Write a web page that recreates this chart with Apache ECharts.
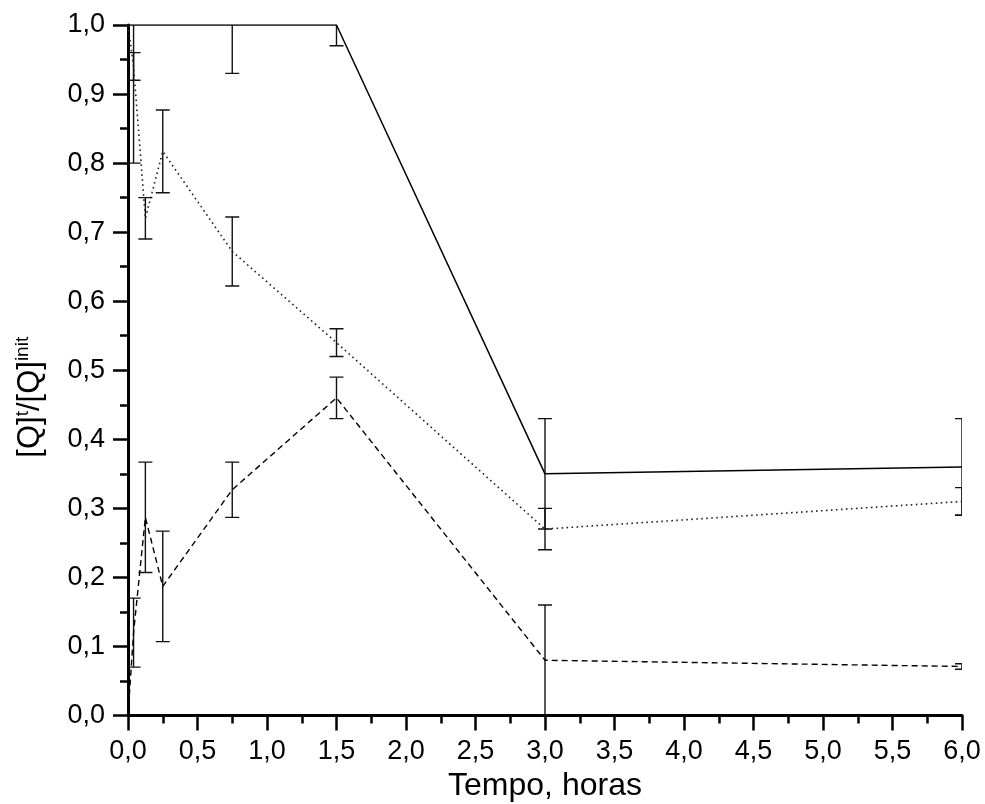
<!DOCTYPE html>
<html>
<head>
<meta charset="utf-8">
<script src="https://cdn.jsdelivr.net/npm/echarts@6/dist/echarts.min.js"></script>
<style>
  html, body { margin: 0; padding: 0; background: #fff; }
  #chart { width: 985px; height: 804px; }
</style>
</head>
<body>
<div id="chart"></div>
<script>
// Time (hours)
const times = [0, 0.04, 0.125, 0.25, 0.75, 1.5, 3, 6];

// Solid series
const solidValues = [1.0, 1.0, 1.0, 1.0, 1.0, 1.0, 0.35, 0.36];
const solidErrors = [0, 0.2, 0, 0, 0.07, 0.03, 0.08, 0.07];

// Dotted series
const dottedValues = [1.0, 0.94, 0.72, 0.817, 0.672, 0.54, 0.27, 0.31];
const dottedErrors = [0, 0.02, 0.03, 0.06, 0.05, 0.02, 0.03, 0.02];

// Dashed series
const dashedValues = [0, 0.12, 0.287, 0.187, 0.327, 0.46, 0.08, 0.071];
const dashedErrors = [0, 0.05, 0.08, 0.08, 0.04, 0.03, 0.08, 0.004];

// Tick labels
const xTickLabels = ['0,0','0,5','1,0','1,5','2,0','2,5','3,0','3,5','4,0','4,5','5,0','5,5','6,0'];
const yTickLabels = ['0,0','0,1','0,2','0,3','0,4','0,5','0,6','0,7','0,8','0,9','1,0'];

const xTitle = 'Tempo, horas';

function pairs(vals) { return times.map((t, i) => [t, vals[i]]); }
function errData(vals, errs) {
  const out = [];
  times.forEach((t, i) => { if (errs[i] > 0) out.push([t, vals[i] - errs[i], vals[i] + errs[i]]); });
  return out;
}

function renderErr(params, api) {
  const x = api.value(0), lo = api.value(1), hi = api.value(2);
  const pLo = api.coord([x, lo]);
  const pHi = api.coord([x, hi]);
  const half = 7;
  const style = { stroke: '#111', lineWidth: 1.4 };
  return {
    type: 'group',
    children: [
      { type: 'line', shape: { x1: pLo[0], y1: pLo[1], x2: pHi[0], y2: pHi[1] }, style: style },
      { type: 'line', shape: { x1: pLo[0] - half, y1: pLo[1], x2: pLo[0] + half, y2: pLo[1] }, style: style },
      { type: 'line', shape: { x1: pHi[0] - half, y1: pHi[1], x2: pHi[0] + half, y2: pHi[1] }, style: style }
    ]
  };
}

const font = '"Liberation Sans", Arial, sans-serif';
const chart = echarts.init(document.getElementById('chart'), null, { renderer: 'canvas' });

chart.setOption({
  animation: false,
  backgroundColor: '#fff',
  grid: { left: 128, right: 23, top: 25, bottom: 88.5, containLabel: false, outerBoundsMode: 'none' },
  xAxis: {
    type: 'value', min: 0, max: 6, interval: 0.5,
    name: xTitle, nameLocation: 'middle', nameGap: 52,
    nameTextStyle: { fontFamily: font, fontSize: 32, color: '#000' },
    axisLine: { show: true, onZero: false, lineStyle: { color: '#000', width: 3 } },
    axisTick: { show: true, inside: false, length: 15, lineStyle: { color: '#000', width: 2.5 } },
    minorTick: { show: true, splitNumber: 2, length: 8, lineStyle: { color: '#000', width: 2.5 } },
    splitLine: { show: false },
    axisLabel: {
      margin: 23, fontFamily: font, fontSize: 27, color: '#000',
      formatter: v => xTickLabels[Math.round(v / 0.5)]
    }
  },
  yAxis: {
    type: 'value', min: 0, max: 1, interval: 0.1,
    name: '[Q]{sup|t}/[Q]{sup|init}', nameLocation: 'middle', nameGap: 80, nameRotate: 90,
    nameTextStyle: {
      fontFamily: font, fontSize: 31, color: '#000', padding: [0, 54, 0, 0],
      rich: { sup: { fontFamily: font, fontSize: 19, color: '#000', verticalAlign: 'top', padding: [0, 0, 16, 0] } }
    },
    axisLine: { show: true, onZero: false, lineStyle: { color: '#000', width: 3 } },
    axisTick: { show: true, inside: false, length: 15, lineStyle: { color: '#000', width: 2.5 } },
    minorTick: { show: true, splitNumber: 2, length: 8, lineStyle: { color: '#000', width: 2.5 } },
    splitLine: { show: false },
    axisLabel: {
      margin: 23, fontFamily: font, fontSize: 27, color: '#000',
      formatter: v => yTickLabels[Math.round(v / 0.1)]
    }
  },
  series: [
    { type: 'line', data: pairs(solidValues), symbol: 'none', clip: true,
      lineStyle: { color: '#000', width: 1.5, type: 'solid' } },
    { type: 'line', data: pairs(dottedValues), symbol: 'none', clip: true,
      lineStyle: { color: '#222', width: 1.6, type: [1.6, 3.4] } },
    { type: 'line', data: pairs(dashedValues), symbol: 'none', clip: true,
      lineStyle: { color: '#000', width: 1.4, type: [6, 4] } },
    { type: 'custom', data: errData(solidValues, solidErrors), renderItem: renderErr, clip: true, encode: { x: 0, y: [1, 2] } },
    { type: 'custom', data: errData(dottedValues, dottedErrors), renderItem: renderErr, clip: true, encode: { x: 0, y: [1, 2] } },
    { type: 'custom', data: errData(dashedValues, dashedErrors), renderItem: renderErr, clip: true, encode: { x: 0, y: [1, 2] } }
  ]
});
</script>
</body>
</html>
